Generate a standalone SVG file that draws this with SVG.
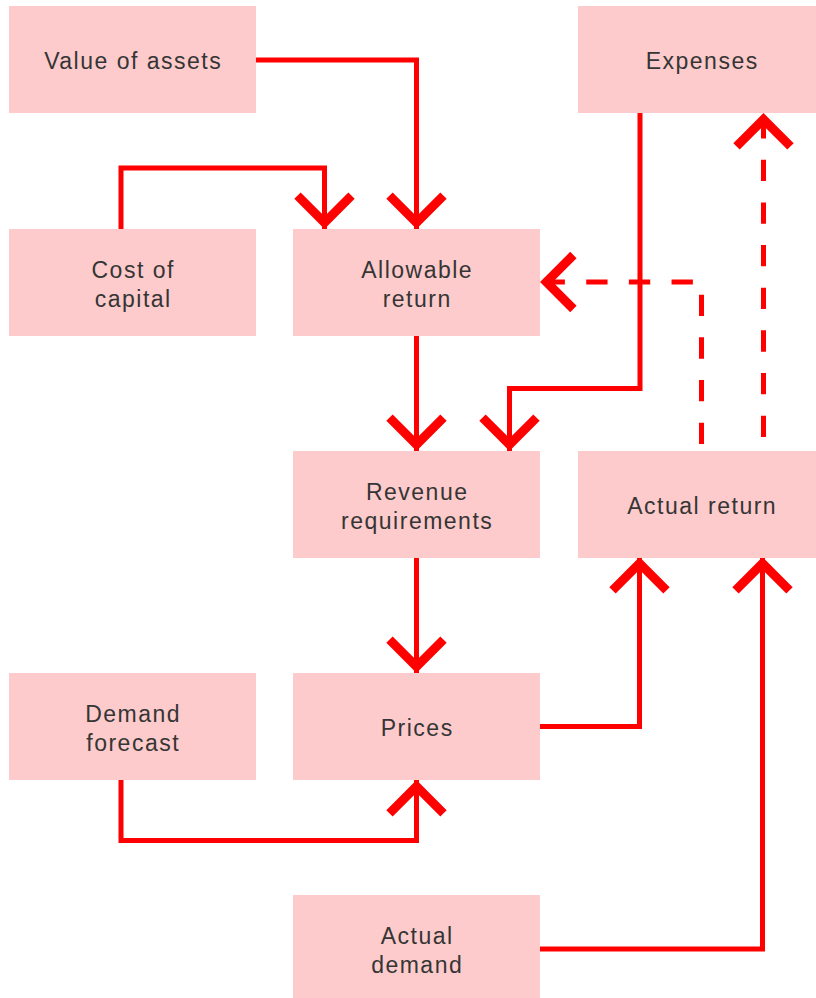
<svg xmlns="http://www.w3.org/2000/svg" xmlns:xlink="http://www.w3.org/1999/xlink" width="816" height="998" viewBox="0 0 816 998">
<style>
.box{fill:#fdcbcb}
.lbl{font-family:"Liberation Sans",Arial,sans-serif;font-size:23px;letter-spacing:1.5px;fill:#353535;text-anchor:middle}
.ln{fill:none;stroke:#ff0000;stroke-width:5;stroke-linejoin:miter;stroke-linecap:butt}
.dash{stroke-dasharray:21.33 21.33}
.hd{fill:none;stroke:#ff0000;stroke-width:9;stroke-linejoin:miter;stroke-linecap:butt}
</style>
<defs>
<path id="chev" class="hd" d="M-27,-33.4 L0,-6.4 L27,-33.4"/>
</defs>
<rect width="816" height="998" fill="#ffffff"/>
<g id="connectors">
<path class="ln" d="M256,60 H416.5 V229"/>
<path class="ln" d="M121,229 V168 H324.5 V229"/>
<path class="ln" d="M640,113 V388.5 H509.5 V451"/>
<path class="ln" d="M416.5,335 V451"/>
<path class="ln" d="M416.5,557 V673"/>
<path class="ln" d="M540,726.5 H639.5 V557"/>
<path class="ln" d="M540,949 H762.5 V557"/>
<path class="ln" d="M121,780 V840.5 H416.5 V780"/>
<path class="ln dash" stroke-dashoffset="35.67" d="M701.5,451 V282 H541"/>
<path class="ln dash" stroke-dashoffset="28.67" d="M763.5,451 V113"/>
<use xlink:href="#chev" transform="translate(416.5,229)"/>
<use xlink:href="#chev" transform="translate(324.5,229)"/>
<use xlink:href="#chev" transform="translate(509.5,451)"/>
<use xlink:href="#chev" transform="translate(416.5,451)"/>
<use xlink:href="#chev" transform="translate(416.5,673)"/>
<use xlink:href="#chev" transform="translate(639.5,557) rotate(180)"/>
<use xlink:href="#chev" transform="translate(762.5,557) rotate(180)"/>
<use xlink:href="#chev" transform="translate(416.5,780) rotate(180)"/>
<use xlink:href="#chev" transform="translate(763.5,113) rotate(180)"/>
<use xlink:href="#chev" transform="translate(540,282) rotate(90)"/>
</g>
<g id="value-of-assets">
<rect class="box" x="9" y="6" width="247" height="107"/>
<text class="lbl" x="133.2" y="68.5">Value of assets</text>
</g>
<g id="expenses">
<rect class="box" x="578" y="6" width="247" height="107"/>
<text class="lbl" x="702.2" y="68.5">Expenses</text>
</g>
<g id="cost-of-capital">
<rect class="box" x="9" y="229" width="247" height="107"/>
<text class="lbl" x="133.2" y="277.5">Cost of</text>
<text class="lbl" x="133.2" y="306.5">capital</text>
</g>
<g id="allowable-return">
<rect class="box" x="293" y="229" width="247" height="107"/>
<text class="lbl" x="417.2" y="277.5">Allowable</text>
<text class="lbl" x="417.2" y="306.5">return</text>
</g>
<g id="revenue-requirements">
<rect class="box" x="293" y="451" width="247" height="107"/>
<text class="lbl" x="417.2" y="499.5">Revenue</text>
<text class="lbl" x="417.2" y="528.5">requirements</text>
</g>
<g id="actual-return">
<rect class="box" x="578" y="451" width="247" height="107"/>
<text class="lbl" x="702.2" y="513.5">Actual return</text>
</g>
<g id="demand-forecast">
<rect class="box" x="9" y="673" width="247" height="107"/>
<text class="lbl" x="133.2" y="721.5">Demand</text>
<text class="lbl" x="133.2" y="750.5">forecast</text>
</g>
<g id="prices">
<rect class="box" x="293" y="673" width="247" height="107"/>
<text class="lbl" x="417.2" y="735.5">Prices</text>
</g>
<g id="actual-demand">
<rect class="box" x="293" y="895" width="247" height="107"/>
<text class="lbl" x="417.2" y="943.5">Actual</text>
<text class="lbl" x="417.2" y="972.5">demand</text>
</g>
</svg>
